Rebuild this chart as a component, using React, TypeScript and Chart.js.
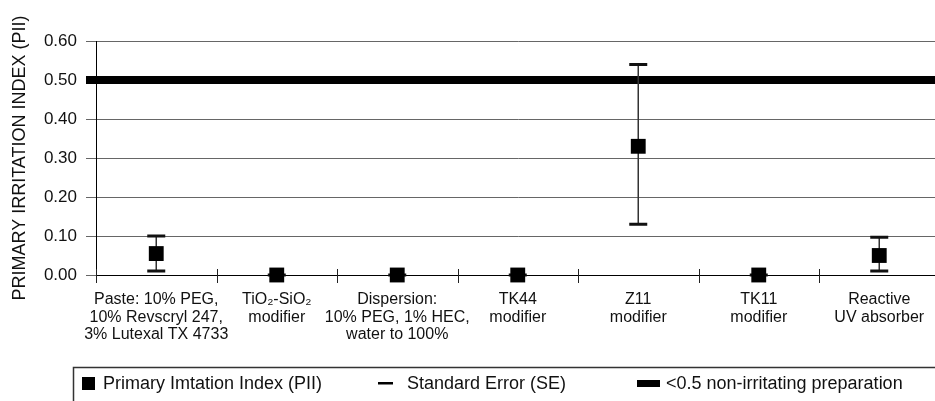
import React, { useEffect, useRef } from "react";
import { Chart, registerables } from "chart.js";

Chart.register(...registerables);

const CATEGORIES: string[][] = [
  ["Paste: 10% PEG,", "10% Revscryl 247,", "3% Lutexal TX 4733"],
  ["TiO₂-SiO₂", "modifier"],
  ["Dispersion:", "10% PEG, 1% HEC,", "water to 100%"],
  ["TK44", "modifier"],
  ["Z11", "modifier"],
  ["TK11", "modifier"],
  ["Reactive", "UV absorber"],
];
const PII: number[] = [0.055, 0, 0, 0, 0.33, 0, 0.05];
const SE_LOW: number[] = [0.01, 0, 0, 0, 0.13, 0, 0.01];
const SE_HIGH: number[] = [0.1, 0, 0, 0, 0.54, 0, 0.097];
const THRESHOLD = 0.5;
const Y_MIN = 0;
const Y_MAX = 0.6;
const Y_STEP = 0.1;
const Y_TITLE = "PRIMARY IRRITATION INDEX (PII)";
const LEGEND_LABELS = [
  "Primary Imtation Index (PII)",
  "Standard Error (SE)",
  "<0.5 non-irritating preparation",
];

const FONT = "'Liberation Sans', Arial, Helvetica, sans-serif";

const extrasPlugin = {
  id: "extras",
  beforeDatasetsDraw(chart: any) {
    const { ctx, chartArea, scales } = chart;
    const x = scales.x;
    const y = scales.y;
    ctx.save();
    // x-axis category boundary ticks
    const n = CATEGORIES.length;
    const w = (chartArea.right - chartArea.left) / n;
    const y0 = y.getPixelForValue(0);
    ctx.strokeStyle = "#222";
    ctx.lineWidth = 1;
    for (let i = 0; i <= n; i++) {
      const bx = Math.round(chartArea.left + i * w) + 0.5;
      ctx.beginPath();
      ctx.moveTo(bx, y0 - 6);
      ctx.lineTo(bx, y0 + 8);
      ctx.stroke();
    }
    // threshold line
    const ty = y.getPixelForValue(THRESHOLD);
    ctx.fillStyle = "#000";
    ctx.fillRect(chartArea.left - 10, ty - 4, chart.width, 8);
    // error bars
    for (let i = 0; i < PII.length; i++) {
      const px = x.getPixelForValue(i);
      const yl = y.getPixelForValue(SE_LOW[i]);
      const yh = y.getPixelForValue(SE_HIGH[i]);
      ctx.strokeStyle = "#333";
      ctx.lineWidth = 1.5;
      ctx.beginPath();
      ctx.moveTo(px, yl);
      ctx.lineTo(px, yh);
      ctx.stroke();
      ctx.strokeStyle = "#111";
      ctx.lineWidth = 3;
      ctx.beginPath();
      ctx.moveTo(px - 9, yl);
      ctx.lineTo(px + 9, yl);
      ctx.moveTo(px - 9, yh);
      ctx.lineTo(px + 9, yh);
      ctx.stroke();
    }
    ctx.restore();
  },
  afterDraw(chart: any) {
    const { ctx } = chart;
    ctx.save();
    // legend frame
    ctx.strokeStyle = "#333";
    ctx.lineWidth = 1.5;
    ctx.strokeRect(73.5, 367.5, 1000, 100);
    const cy = 383;
    ctx.fillStyle = "#000";
    ctx.fillRect(82, cy - 6, 13, 13);
    ctx.fillRect(378, cy - 1, 15, 2.5);
    ctx.fillRect(637, cy - 3, 23, 7);
    ctx.fillStyle = "#111";
    ctx.font = `18px ${FONT}`;
    ctx.textBaseline = "middle";
    ctx.textAlign = "left";
    ctx.fillText(LEGEND_LABELS[0], 103, cy + 1);
    ctx.fillText(LEGEND_LABELS[1], 407, cy + 1);
    ctx.fillText(LEGEND_LABELS[2], 666, cy + 1);
    ctx.restore();
  },
};

export default function App() {
  const ref = useRef<HTMLCanvasElement | null>(null);
  useEffect(() => {
    if (!ref.current) return;
    const chart = new Chart(ref.current, {
      type: "line",
      data: {
        labels: CATEGORIES as any,
        datasets: [
          {
            label: LEGEND_LABELS[0],
            data: PII,
            showLine: false,
            pointStyle: "rect",
            pointRadius: 10.5,
            pointHoverRadius: 10.5,
            pointBackgroundColor: "#000",
            pointBorderWidth: 0,
            borderColor: "#000",
            clip: false as any,
          },
        ],
      },
      options: {
        responsive: false,
        animation: false,
        layout: { padding: { top: 41, right: 10, bottom: 0, left: 0 } },
        plugins: {
          legend: { display: false },
          tooltip: { enabled: false },
        },
        scales: {
          x: {
            type: "category",
            offset: true,
            grid: { display: false, offset: true },
            border: { display: true, color: "#000", width: 1 },
            ticks: {
              color: "#111",
              font: { family: FONT, size: 16, lineHeight: 1.1 },
              padding: 8,
              maxRotation: 0,
              minRotation: 0,
              autoSkip: false,
            },
            afterFit(scale: any) {
              scale.height = 126;
            },
          },
          y: {
            min: Y_MIN,
            max: Y_MAX,
            ticks: {
              stepSize: Y_STEP,
              color: "#111",
              font: { family: FONT, size: 17 },
              padding: 9,
              callback: (v: any) => Number(v).toFixed(2),
            },
            grid: { color: "#666", lineWidth: 1, tickLength: 10 },
            border: { display: true, color: "#000", width: 1 },
            title: {
              display: true,
              text: Y_TITLE,
              color: "#111",
              font: { family: FONT, size: 18 },
              padding: { top: 9, bottom: 0 },
            },
            afterFit(scale: any) {
              scale.width = 96;
            },
          },
        },
      },
      plugins: [extrasPlugin],
    });
    return () => chart.destroy();
  }, []);
  return (
    <div
      style={{
        position: "fixed",
        left: 0,
        top: 0,
        width: 935,
        height: 401,
        overflow: "hidden",
        background: "#fff",
      }}
    >
      <canvas ref={ref} width={950} height={401} style={{ display: "block", width: 950, height: 401 }} />
    </div>
  );
}
